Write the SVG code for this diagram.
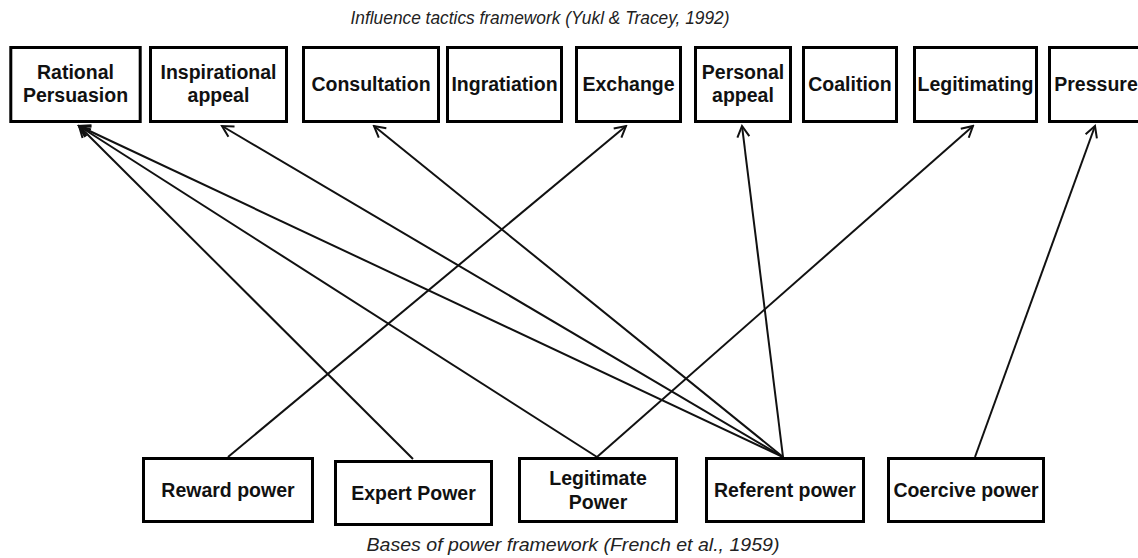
<svg xmlns="http://www.w3.org/2000/svg" width="1138" height="558" viewBox="0 0 1138 558">
<style>
.box{fill:#fff;stroke:#000;stroke-width:3}
.t{font-family:"Liberation Sans",Arial,sans-serif;font-weight:bold;font-size:19.5px;fill:#111;text-anchor:middle}
.cap{font-family:"Liberation Sans",Arial,sans-serif;font-style:italic;font-size:18px;fill:#222;text-anchor:middle}
.c{stroke:#111;stroke-width:2;fill:none;marker-end:url(#ah)}
</style>
<defs>
<marker id="ah" markerUnits="userSpaceOnUse" markerWidth="16" markerHeight="16" viewBox="0 0 16 16" refX="14" refY="8" orient="auto">
<path d="M3,2 L14,8 L3,14" fill="none" stroke="#111" stroke-width="2"/>
</marker>
</defs>
<rect width="1138" height="558" fill="#fff"/>
<text class="cap" x="540" y="24" textLength="379" lengthAdjust="spacingAndGlyphs">Influence tactics framework (Yukl &amp; Tracey, 1992)</text>
<text class="cap" x="573" y="551" textLength="413" lengthAdjust="spacingAndGlyphs">Bases of power framework (French et al., 1959)</text>
<g id="connectors">
<line class="c" x1="228" y1="457" x2="626" y2="126"/>
<line class="c" x1="413" y1="459" x2="79" y2="126"/>
<line class="c" x1="597" y1="457" x2="79" y2="126"/>
<line class="c" x1="597" y1="457" x2="973" y2="126"/>
<line class="c" x1="783" y1="457" x2="79" y2="126"/>
<line class="c" x1="783" y1="457" x2="222" y2="126"/>
<line class="c" x1="783" y1="457" x2="374" y2="126"/>
<line class="c" x1="783" y1="457" x2="742" y2="126"/>
<line class="c" x1="975" y1="457" x2="1095" y2="126"/>
</g>
<g id="rational"><rect class="box" x="10.8" y="47.5" width="129.4" height="74"/><text class="t" x="75.5" y="79">Rational</text><text class="t" x="75.5" y="102">Persuasion</text></g>
<g id="inspirational"><rect class="box" x="150.5" y="47.5" width="136" height="74"/><text class="t" x="218.5" y="79">Inspirational</text><text class="t" x="218.5" y="102">appeal</text></g>
<g id="consultation"><rect class="box" x="303.5" y="47.5" width="135" height="74"/><text class="t" x="371" y="91">Consultation</text></g>
<g id="ingratiation"><rect class="box" x="447.5" y="47.5" width="114" height="74"/><text class="t" x="504.5" y="91">Ingratiation</text></g>
<g id="exchange"><rect class="box" x="576.5" y="47.5" width="104" height="74"/><text class="t" x="628.5" y="91">Exchange</text></g>
<g id="personal"><rect class="box" x="695.5" y="47.5" width="95" height="74"/><text class="t" x="743" y="79">Personal</text><text class="t" x="743" y="102">appeal</text></g>
<g id="coalition"><rect class="box" x="803.5" y="47.5" width="93" height="74"/><text class="t" x="850" y="91">Coalition</text></g>
<g id="legitimating"><rect class="box" x="914.5" y="47.5" width="122" height="74"/><text class="t" x="975.5" y="91">Legitimating</text></g>
<g id="pressure"><rect class="box" x="1049.5" y="47.5" width="100" height="74"/><text class="t" x="1096" y="91">Pressure</text></g>
<g id="reward"><rect class="box" x="143.5" y="458.5" width="169" height="63"/><text class="t" x="228" y="497">Reward power</text></g>
<g id="expert"><rect class="box" x="335.5" y="461.5" width="156" height="63"/><text class="t" x="413.5" y="500">Expert Power</text></g>
<g id="legitimate"><rect class="box" x="519.5" y="458.5" width="157" height="63"/><text class="t" x="598" y="485">Legitimate</text><text class="t" x="598" y="509">Power</text></g>
<g id="referent"><rect class="box" x="706.5" y="458.5" width="157" height="63"/><text class="t" x="785" y="497">Referent power</text></g>
<g id="coercive"><rect class="box" x="888.5" y="458.5" width="155" height="63"/><text class="t" x="966" y="497">Coercive power</text></g>
</svg>
